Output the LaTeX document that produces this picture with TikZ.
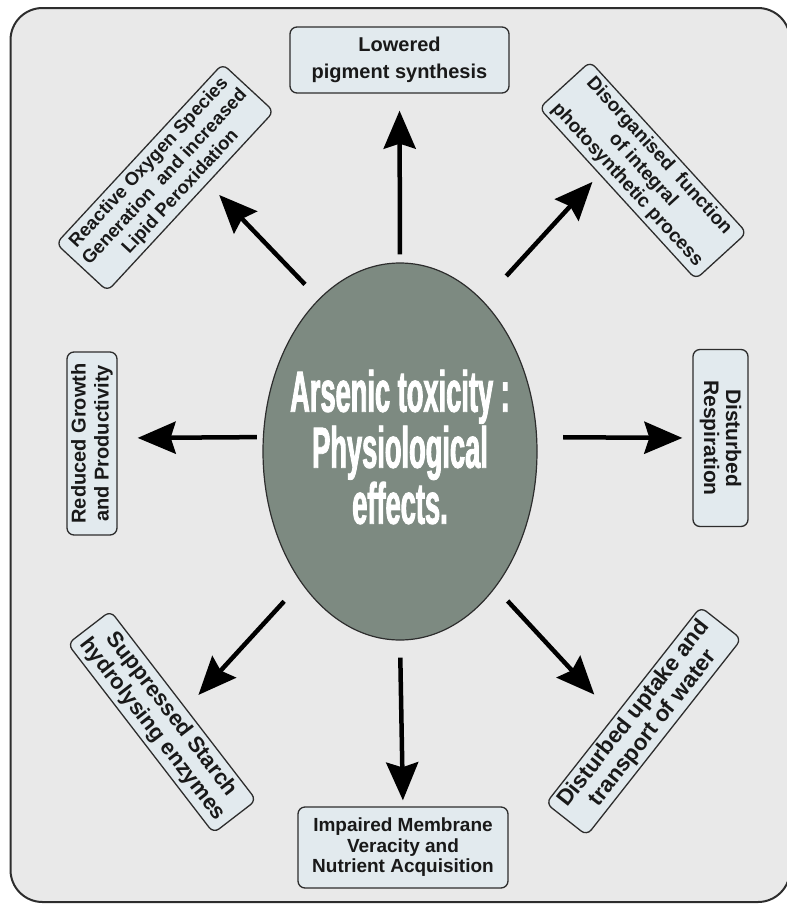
\documentclass[tikz,border=0pt]{standalone}
\usepackage{fontspec}
\setmainfont{Liberation Sans}
\newfontfamily\narrowfont[FakeStretch=0.47,FakeBold=1.5]{Liberation Sans}
\usetikzlibrary{arrows.meta,positioning,shapes.geometric}
\definecolor{framebg}{RGB}{233,233,233}
\definecolor{boxfill}{RGB}{226,234,238}
\definecolor{coregreen}{RGB}{125,138,129}
\definecolor{edge}{RGB}{45,45,45}

\begin{document}
\begin{tikzpicture}[x=1pt, y=-1pt,
    effect/.style={draw=edge, line width=1.3pt, fill=boxfill, rounded corners=7pt, align=center, inner sep=2pt, text=black!90},
    arr/.style={-{Stealth[length=38pt,width=32pt,inset=5pt]}, line width=4.5pt}
]
\useasboundingbox (0,0) rectangle (787,906);
\draw[edge, line width=2pt, fill=framebg, rounded corners=32pt] (10.5,8) rectangle (790,902);

% centre
\node[ellipse, draw=edge, line width=1.2pt, fill=coregreen, minimum width=274pt, minimum height=377pt, inner sep=0pt] (arsenic) at (400,451.5) {};
\node[text=white, align=center, inner sep=0pt, font=\narrowfont\bfseries\fontsize{58}{56}\selectfont] (arsenictxt) at (400,447) {Arsenic toxicity :\\Physiological\\effects.};

% effects
\node[effect, minimum width=219pt, minimum height=66pt, font=\bfseries\fontsize{20}{27}\selectfont] (pigment) at (399.5,60) {Lowered\\pigment synthesis};
\node[effect, minimum width=210pt, minimum height=81pt, font=\bfseries\fontsize{19}{20.5}\selectfont] (membrane) at (403,847.5) {Impaired Membrane\\Veracity and\\Nutrient Acquisition};
\node[effect, rotate=90, minimum width=183pt, minimum height=50pt, font=\bfseries\fontsize{20}{23}\selectfont] (growth) at (92,443.5) {Reduced Growth\\and Productivity};
\node[effect, rotate=-90, minimum width=177pt, minimum height=55pt, font=\bfseries\fontsize{21}{22}\selectfont] (respiration) at (720.5,438) {Disturbed\\Respiration};
\node[effect, rotate=47.2, minimum width=245pt, minimum height=70pt, font=\bfseries\fontsize{18.5}{21.5}\selectfont] (ros) at (165,177.5) {Reactive Oxygen Species\\Generation\ \ and increased\\Lipid Peroxidation};
\node[effect, rotate=-47.6, minimum width=232pt, minimum height=69pt, font=\bfseries\fontsize{19}{21.5}\selectfont] (photo) at (643,170.4) {Disorganised\ \ function\\of integral\\photosynthetic process};
\node[effect, rotate=-52.4, minimum width=239pt, minimum height=54pt, font=\bfseries\fontsize{22}{24}\selectfont] (starch) at (162,722) {Suppressed Starch\\hydrolysing enzymes};
\node[effect, rotate=51.8, minimum width=250pt, minimum height=52pt, font=\bfseries\fontsize{22.5}{24}\selectfont] (water) at (643.7,721.2) {Disturbed uptake and\\transport of water};

% arrows
\draw[arr, shorten <=8pt, shorten >=17pt] (arsenic.north) -- (pigment.south);
\draw[arr, shorten <=17pt, shorten >=6pt] (arsenic.south) -- (membrane.north);
\draw[arr, shorten <=6pt, shorten >=20pt] (arsenic.174) -- (growth.-78);
\draw[arr, shorten <=26pt, shorten >=10pt] (arsenic.6) -- (respiration.south);
\draw[arr, shorten <=20pt, shorten >=16pt] (arsenic.118) -- (ros.-55);
\draw[arr, shorten <=34pt, shorten >=10pt] (arsenic.61) -- (photo.-127);
\draw[arr, shorten <=25pt, shorten >=18pt] (arsenic.-127) -- (starch.82);
\draw[arr, shorten <=18pt, shorten >=29pt] (arsenic.-55) -- (water.118);
\end{tikzpicture}
\end{document}
